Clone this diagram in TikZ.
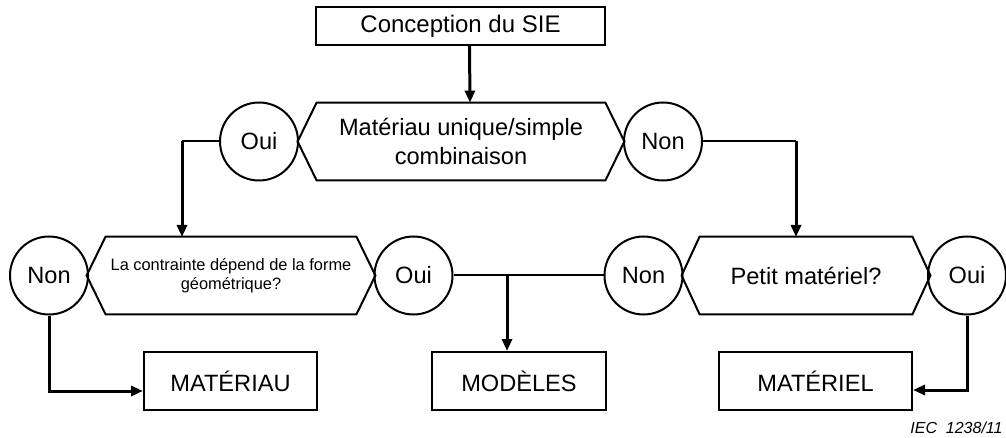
\documentclass[tikz,border=0pt]{standalone}
\usepackage{fontspec}
\setmainfont{Liberation Sans}
\usetikzlibrary{arrows.meta,calc}
\tikzset{
>={Triangle[length=6pt,width=5pt]},
blocco/.style={draw,line width=1pt,inner sep=0pt,minimum height=29pt},
domanda/.style={inner sep=0pt,minimum height=38.5pt,align=center},
cerchio/.style={circle,draw,line width=1pt,inner sep=0pt,minimum size=39pt},
linea/.style={line width=1pt},
freccia/.style={->,line width=1.5pt}}

\begin{document}
\begin{tikzpicture}[x=0.5pt,y=-0.5pt,font=\fontsize{11.8}{14.2}\selectfont]

\useasboundingbox (0,0) rectangle (1006,438);

      % first question
      \node[blocco,minimum width=144.5pt,minimum height=19pt,font=\fontsize{12}{14}\selectfont] (1) at (460.5,26) {Conception du SIE};
      \node[domanda,minimum width=144pt] (2) at (461,141.5) {Matériau unique/simple\\combinaison};
      \node[cerchio] (3) at (259,141.5) {Oui};
      \node[cerchio] (4) at (663,141.5) {Non};

      % second row
      \node[domanda,minimum width=125pt,font=\fontsize{8.2}{9.6}\selectfont] (5) at (231,275.5) {La contrainte dépend de la forme\\géométrique?};
      \node[cerchio] (6) at (49,275.5) {Non};
      \node[cerchio] (7) at (413.5,275.5) {Oui};
      \node[domanda,minimum width=106pt] (8) at (806,275.5) {Petit matériel?};
      \node[cerchio] (9) at (643.5,275.5) {Non};
      \node[cerchio] (10) at (967,275.5) {Oui};

      % results
      \node[blocco,minimum width=86.5pt] (11) at (230.5,381) {MATÉRIAU};
      \node[blocco,minimum width=87pt] (12) at (519,381) {MODÈLES};
      \node[blocco,minimum width=96.5pt] (13) at (815.5,381) {MATÉRIEL};

      \node[anchor=east,inner sep=0pt,font=\fontsize{8}{9.6}\selectfont\itshape] (14) at (1003,428) {IEC\ \ 1238/11};

      \foreach \h/\d in {2/19,5/19,8/18}
        \draw[linea] (\h.north west) -- (\h.north east) -- ([xshift=\d*0.5pt]\h.east)
          -- (\h.south east) -- (\h.south west) -- ([xshift=-\d*0.5pt]\h.west) -- cycle;

      \coordinate (a) at (182,237);
      \coordinate (b) at (796,237);
      \coordinate (c) at (507,275.5);

      \draw[freccia] ([xshift=4.5pt]1.south) -- ([xshift=4.5pt]2.north);
      \draw[linea] (3) -- (3 -| a);
      \draw[freccia] (3 -| a) -- (a);
      \draw[linea] (4) -- (4 -| b);
      \draw[freccia] (4 -| b) -- (b);
      \draw[linea] (7) -- (9);
      \draw[freccia] (c) -- (c |- 12.north);
      \draw[freccia] (6) |- ([yshift=-5pt]11.west);
      \draw[freccia] (10) |- ([yshift=-4.5pt]13.east);
\end{tikzpicture}
\end{document}
